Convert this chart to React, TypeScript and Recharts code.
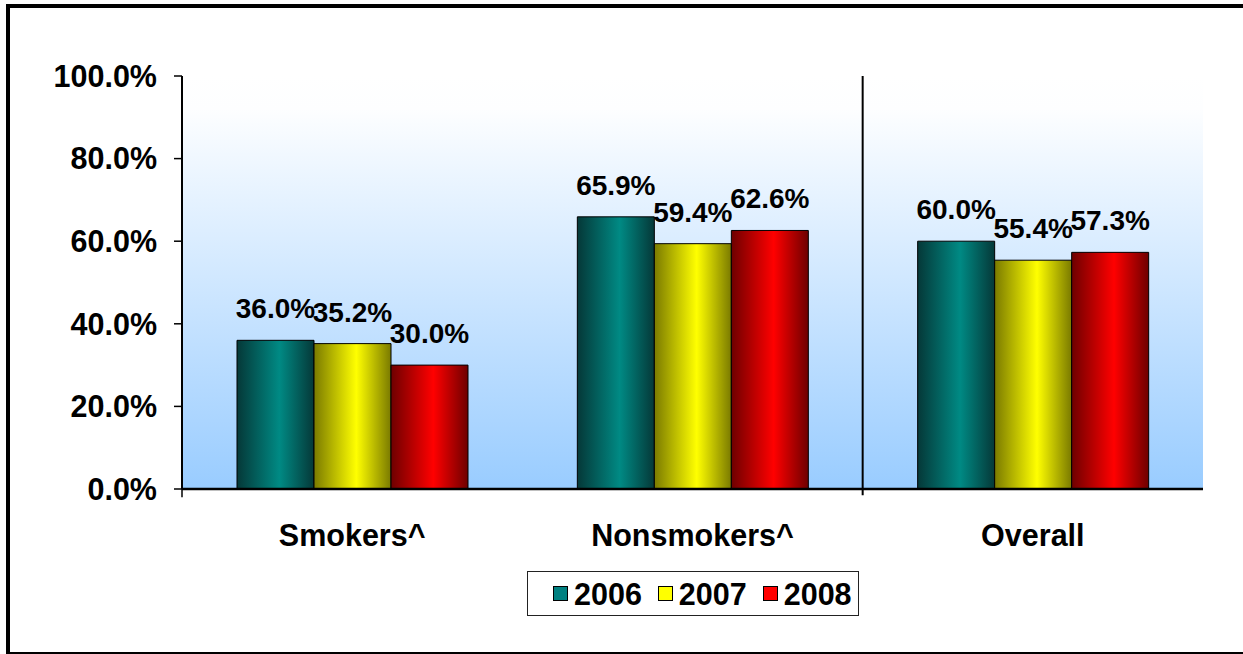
import React from 'react';
import {
  BarChart,
  Bar,
  XAxis,
  YAxis,
  CartesianGrid,
  Legend,
  LabelList,
  ReferenceLine,
} from 'recharts';

const categories = ['Smokers^', 'Nonsmokers^', 'Overall'];
const years = ['2006', '2007', '2008'];
const values2006 = [36.0, 65.9, 60.0];
const values2007 = [35.2, 59.4, 55.4];
const values2008 = [30.0, 62.6, 57.3];
const yTicks = [0, 20, 40, 60, 80, 100];

// legend swatch colour, dark edge, bright centre
const COLORS = [
  { base: '#008080', dark: '#053838', light: '#008a84' },
  { base: '#ffff00', dark: '#7a7a00', light: '#ffff00' },
  { base: '#ff0000', dark: '#6e0000', light: '#ff0000' },
];

const FONT = '"Liberation Sans", Arial, sans-serif';
const AXIS_FONT_SIZE = 30.5;

const data = categories.map((name, i) => ({
  name,
  y2006: values2006[i],
  y2007: values2007[i],
  y2008: values2008[i],
}));

const seriesKeys = ['y2006', 'y2007', 'y2008'];

function pct(v: number) {
  return `${Number(v).toFixed(1)}%`;
}

function CategoryTick({ x, y, payload }: any) {
  return (
    <text
      x={x}
      y={y + 57}
      textAnchor="middle"
      fontFamily={FONT}
      fontWeight="bold"
      fontSize={AXIS_FONT_SIZE}
      fill="#000"
    >
      {payload.value}
    </text>
  );
}

function LegendBox() {
  return (
    <div
      style={{
        boxSizing: 'border-box',
        width: 332,
        height: 45,
        border: '1px solid #222',
        background: '#fff',
        display: 'flex',
        alignItems: 'center',
        paddingLeft: 25,
        fontFamily: FONT,
        fontWeight: 'bold',
        fontSize: AXIS_FONT_SIZE,
        color: '#000',
      }}
    >
      {years.map((yr, i) => (
        <div key={yr} style={{ display: 'flex', alignItems: 'center', marginRight: i < 2 ? 16 : 0 }}>
          <span
            style={{
              display: 'inline-block',
              width: 13,
              height: 13,
              background: COLORS[i].base,
              border: '1px solid #000',
              marginRight: 6,
            }}
          />
          <span style={{ lineHeight: '30px' }}>{yr}</span>
        </div>
      ))}
    </div>
  );
}

export default function App() {
  return (
    <div style={{ position: 'absolute', left: 0, top: 0, width: 1243, height: 654 }}>
      <div
        style={{
          position: 'absolute',
          left: 6,
          top: 4,
          width: 1237,
          height: 650,
          boxSizing: 'border-box',
          borderTop: '4px solid #000',
          borderLeft: '4px solid #000',
          borderBottom: '2px solid #000',
        }}
      />
      <div style={{ position: 'absolute', left: 0, top: 0 }}>
        <BarChart
          width={1243}
          height={654}
          data={data}
          margin={{ top: 76, right: 40, bottom: 135, left: 0 }}
          barCategoryGap={55}
          barGap={0}
        >
          <defs>
            <linearGradient id="plotBg" x1="0" y1="0" x2="0" y2="1">
              <stop offset="0" stopColor="#ffffff" />
              <stop offset="0.08" stopColor="#fdfeff" />
              <stop offset="1" stopColor="#99ccff" />
            </linearGradient>
            {COLORS.map((c, i) => (
              <linearGradient key={i} id={`barGrad${i}`} x1="0" y1="0" x2="1" y2="0">
                <stop offset="0" stopColor={c.dark} />
                <stop offset="0.55" stopColor={c.light} />
                <stop offset="1" stopColor={c.dark} />
              </linearGradient>
            ))}
          </defs>
          <CartesianGrid horizontal={false} vertical={false} fill="url(#plotBg)" />
          <XAxis
            dataKey="name"
            height={30}
            tick={<CategoryTick />}
            tickLine={false}
            tickSize={0}
            tickMargin={0}
            axisLine={{ stroke: '#000', strokeWidth: 2.5 }}
            interval={0}
          />
          <YAxis
            domain={[0, 100]}
            ticks={yTicks}
            interval={0}
            width={182}
            tickFormatter={pct}
            tickSize={8}
            tickMargin={17}
            axisLine={{ stroke: '#000', strokeWidth: 2 }}
            tickLine={{ stroke: '#000', strokeWidth: 1.5 }}
            tick={{ fontFamily: FONT, fontWeight: 'bold', fontSize: AXIS_FONT_SIZE, fill: '#000' }}
          />
          {/* separator before Overall and the small corner tick, both on band edges */}
          <ReferenceLine
            segment={[{ x: 'Overall', y: 100 }, { x: 'Overall', y: -1.5 }]}
            position="start"
            ifOverflow="visible"
            stroke="#000"
            strokeWidth={2}
          />
          <ReferenceLine
            segment={[{ x: 'Smokers^', y: 0 }, { x: 'Smokers^', y: -2 }]}
            position="start"
            ifOverflow="visible"
            stroke="#000"
            strokeWidth={1.5}
          />
          <Legend
            layout="horizontal"
            align="center"
            verticalAlign="middle"
            content={<LegendBox />}
            wrapperStyle={{ left: 527, top: 571, width: 332, height: 45 }}
          />
          {seriesKeys.map((key, i) => (
            <Bar
              key={key}
              dataKey={key}
              name={years[i]}
              fill={`url(#barGrad${i})`}
              stroke="#000"
              strokeWidth={1}
              isAnimationActive={false}
            >
              <LabelList
                dataKey={key}
                position="top"
                offset={22}
                formatter={(v: any) => pct(v)}
                style={{ fontFamily: FONT, fontWeight: 'bold', fontSize: 28, fill: '#000' }}
              />
            </Bar>
          ))}
        </BarChart>
      </div>
    </div>
  );
}
